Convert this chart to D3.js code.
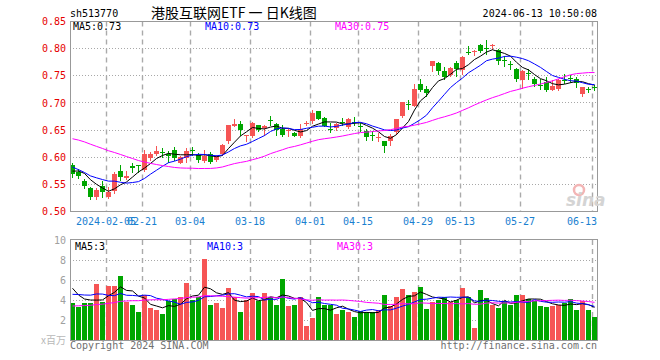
<!DOCTYPE html>
<html><head><meta charset="utf-8">
<script src="https://cdn.jsdelivr.net/npm/d3@7/dist/d3.min.js"></script>
<style>body{margin:0;background:#fff}svg{display:block}</style>
</head><body>
<svg id="c" width="660" height="360"></svg>
<script>
// ---- data ----
const dates = ["01-26","01-29","01-30","01-31","02-01","02-02","02-05","02-06","02-07","02-08",
"02-19","02-20","02-21","02-22","02-23","02-26","02-27","02-28","02-29","03-01",
"03-04","03-05","03-06","03-07","03-08","03-11","03-12","03-13","03-14","03-15",
"03-18","03-19","03-20","03-21","03-22","03-25","03-26","03-27","03-28","03-29",
"04-01","04-02","04-03","04-08","04-09","04-10","04-11","04-12","04-15","04-16",
"04-17","04-18","04-19","04-22","04-23","04-24","04-25","04-26","04-29","04-30",
"05-06","05-07","05-08","05-09","05-10","05-13","05-14","05-15","05-16","05-17",
"05-20","05-21","05-22","05-23","05-24","05-27","05-28","05-29","05-30","05-31",
"06-03","06-04","06-05","06-06","06-07","06-11","06-12","06-13"];
const opens = [0.586,0.573,0.557,0.543,0.527,0.547,0.527,0.538,0.575,0.562,
0.584,0.585,0.5765,0.598,0.606,0.610,0.6056,0.6136,0.590,0.598,
0.6125,0.6043,0.593,0.6056,0.5944,0.6056,0.630,0.6568,0.6617,0.6383,
0.6395,0.660,0.6537,0.668,0.661,0.652,0.6476,0.6444,0.6383,0.6623,
0.666,0.6858,0.6722,0.6525,0.6531,0.6654,0.6556,0.6654,0.6574,0.6475,
0.6407,0.6364,0.630,0.629,0.6463,0.6765,0.6975,0.695,0.734,0.725,
0.7673,0.7735,0.758,0.7519,0.7735,0.760,0.7944,0.7944,0.806,0.8018,
0.8055,0.798,0.7787,0.771,0.7623,0.7426,0.7543,0.7444,0.7325,0.7383,
0.7247,0.726,0.742,0.7463,0.7444,0.7167,0.7253,0.7296];
const highs = [0.589,0.578,0.559,0.546,0.544,0.557,0.546,0.572,0.586,0.575,
0.589,0.586,0.6136,0.609,0.620,0.617,0.6117,0.619,0.602,0.6167,
0.619,0.6086,0.6136,0.6105,0.6043,0.624,0.660,0.670,0.666,0.6407,
0.665,0.660,0.6586,0.6765,0.663,0.660,0.6519,0.6463,0.6617,0.666,
0.6877,0.6858,0.674,0.663,0.663,0.6722,0.6722,0.674,0.663,0.652,
0.6475,0.6445,0.630,0.6426,0.671,0.701,0.706,0.735,0.744,0.731,
0.7765,0.775,0.767,0.766,0.778,0.786,0.8043,0.797,0.808,0.8167,
0.808,0.800,0.7858,0.7765,0.7642,0.760,0.763,0.7475,0.7444,0.7475,
0.7414,0.7444,0.7525,0.7506,0.747,0.729,0.729,0.7339];
const lows = [0.564,0.561,0.544,0.523,0.523,0.527,0.524,0.535,0.558,0.560,
0.572,0.573,0.575,0.594,0.604,0.601,0.592,0.5957,0.589,0.592,
0.6043,0.592,0.591,0.589,0.5926,0.604,0.626,0.6568,0.6414,0.629,
0.638,0.6475,0.6414,0.660,0.640,0.6395,0.6383,0.6383,0.637,0.6599,
0.6636,0.6697,0.6568,0.6457,0.6506,0.6599,0.654,0.6599,0.6475,0.632,
0.631,0.629,0.6105,0.6228,0.6432,0.674,0.689,0.694,0.7216,0.7136,
0.759,0.754,0.744,0.750,0.750,0.754,0.790,0.789,0.794,0.7907,
0.800,0.772,0.7673,0.7623,0.741,0.727,0.7444,0.732,0.726,0.7216,
0.7247,0.7241,0.736,0.739,0.729,0.7136,0.7204,0.7241];
const closes = [0.570,0.566,0.5475,0.527,0.540,0.536,0.536,0.570,0.564,0.566,
0.581,0.583,0.606,0.606,0.612,0.609,0.6025,0.598,0.601,0.6117,
0.611,0.5957,0.603,0.592,0.6025,0.6228,0.660,0.661,0.6494,0.6407,
0.663,0.6506,0.6568,0.6667,0.6506,0.6414,0.6506,0.6383,0.6519,0.663,
0.6815,0.671,0.658,0.6513,0.6617,0.6642,0.671,0.6642,0.6562,0.637,
0.6395,0.637,0.621,0.6395,0.671,0.701,0.6963,0.7265,0.7247,0.7175,
0.7765,0.758,0.7475,0.7642,0.763,0.7846,0.7932,0.795,0.795,0.8006,
0.806,0.7765,0.7778,0.770,0.7438,0.759,0.7537,0.735,0.732,0.7247,
0.732,0.7426,0.7414,0.7457,0.7364,0.729,0.7247,0.729];
const volumes = [3.67,3.33,3.67,3.67,5.6,3.77,5.4,5.4,6.4,3.83,
3.5,2.8,4.5,3.2,3.0,2.6,3.9,4.1,4.3,5.7,
4.0,4.3,8.1,3.5,3.7,3.2,5.2,4.3,2.8,4.0,
4.7,3.9,4.7,4.3,3.5,6.1,3.4,3.5,4.3,1.4,
2.2,4.3,3.5,3.5,2.6,3.0,2.8,2.3,2.9,2.8,
2.8,3.0,4.5,3.4,4.3,5.1,4.5,4.8,5.3,3.1,
3.8,4.0,4.3,3.8,4.0,5.2,4.3,1.2,5.0,4.2,
3.5,3.2,3.9,3.5,4.5,4.5,4.1,3.9,3.4,3.3,
3.4,3.5,3.7,4.1,3.0,3.9,3.0,2.3];
// sessions before the visible window (estimated from where the MA lines start)
const prevCloses = [0.640,0.648,0.655,0.660,0.652,0.660,0.668,0.673,0.680,0.690,
0.695,0.688,0.680,0.676,0.668,0.655,0.648,0.630,0.622,0.615,
0.613,0.600,0.590,0.575,0.568,0.565,0.570,0.585,0.582];
const prevVolumes = [2.6,3.1,2.8,3.3,2.7,3.0,2.9,2.8,2.87,2.5,
2.9,2.4,2.7,2.6,2.8,2.6,2.8,3.1,2.9,2.93,
3.5,4.2,3.8,4.4,3.9,6.7,5.67,4.17,5.66];
const maPeriods = [5, 10, 30];
const maNames = ["MA5", "MA10", "MA30"];
const maPriceLabels = ["0.73", "0.73", "0.75"];
const maVolLabels = ["3", "3", "3"];
const priceTicks = [0.50,0.55,0.60,0.65,0.70,0.75,0.80,0.85];
const volTicks = [2,4,6,8,10];
const tickDates = ["02-05","02-21","03-04","03-18","04-01","04-15","04-29","05-13","05-27","06-13"];
const tickLabels = ["2024-02-05","02-21","03-04","03-18","04-01","04-15","04-29","05-13","05-27","06-13"];
const symbol = "sh513770";
const title = "港股互联网ETF 一 日K线图";
const timestamp = "2024-06-13 10:50:08";

// ---- drawing ----
const RED = "#f65555", GREEN = "#00a600";
const maColors = ["#000000", "#0000ff", "#ff00ff"];
const MONO = "'DejaVu Sans Mono', monospace";
const svg = d3.select("#c");
const n = dates.length;
const x = d3.scaleBand().domain(dates).range([70, 70 + 6 * n])
  .paddingInner(1/6).paddingOuter(1/12).align(0);
const bw = x.bandwidth();
const y = d3.scaleLinear().domain([0.50, 0.85]).range([211.5, 21.5]);
const yv = d3.scaleLinear().domain([0, 10]).range([340, 240]);
const crisp = v => Math.floor(v) + 0.5;

function movingAvg(prev, vals, p) {
  const all = prev.concat(vals);
  const off = prev.length;
  return vals.map((_, i) => d3.mean(all.slice(off + i - p + 1, off + i + 1)));
}

function panel(top, bottom, hTicks, yScale) {
  const g = svg.append("g");
  g.selectAll(".hg").data(hTicks).join("line")
    .attr("x1", 70).attr("x2", 597)
    .attr("y1", d => crisp(yScale(d))).attr("y2", d => crisp(yScale(d)))
    .attr("stroke", "#a8a8a8").attr("stroke-dasharray", "1,2");
  g.selectAll(".vg").data(tickDates).join("line")
    .attr("x1", d => x(d) + 0.5).attr("x2", d => x(d) + 0.5)
    .attr("y1", top).attr("y2", bottom)
    .attr("stroke", "#aaaaaa").attr("stroke-width", 1.4).attr("stroke-dasharray", "5,4");
  return g;
}

// main panel grid
panel(21.5, 211.5, [0.55,0.60,0.65,0.70,0.75,0.80], y);
// volume panel grid
panel(240, 340, [2,4,6,8], yv);

// candles
const cg = svg.append("g");
dates.forEach((d, i) => {
  const o = opens[i], c = closes[i];
  const col = c >= o ? RED : GREEN;
  const xc = x(d) + 2.5;
  cg.append("line").attr("x1", xc).attr("x2", xc)
    .attr("y1", Math.round(y(highs[i]))).attr("y2", Math.round(y(lows[i])) + 1)
    .attr("stroke", col).attr("stroke-width", 1);
  const t = Math.round(y(Math.max(o, c))), b = Math.round(y(Math.min(o, c)));
  cg.append("rect").attr("x", x(d)).attr("y", t)
    .attr("width", bw).attr("height", Math.max(1, b - t)).attr("fill", col);
});

// volume bars
svg.append("g").selectAll("rect").data(dates).join("rect")
  .attr("x", d => x(d)).attr("width", bw)
  .attr("y", (d, i) => Math.round(yv(volumes[i])))
  .attr("height", (d, i) => 340 - Math.round(yv(volumes[i])))
  .attr("fill", (d, i) => closes[i] >= opens[i] ? RED : GREEN);

// MA lines
const lineP = d3.line().x((v, i) => x(dates[i]) + 2.5).y(v => y(v));
const lineV = d3.line().x((v, i) => x(dates[i]) + 2.5).y(v => yv(v));
maPeriods.forEach((p, k) => {
  svg.append("path").attr("d", lineP(movingAvg(prevCloses, closes, p)))
    .attr("fill", "none").attr("stroke", maColors[k]).attr("stroke-width", 1);
  svg.append("path").attr("d", lineV(movingAvg(prevVolumes, volumes, p)))
    .attr("fill", "none").attr("stroke", maColors[k]).attr("stroke-width", 1);
});

// borders
[[21.5, 211.5], [239.5, 340.5]].forEach(([t, b]) => {
  svg.append("rect").attr("x", 70.5).attr("y", t).attr("width", 527).attr("height", b - t)
    .attr("fill", "none").attr("stroke", "#999").attr("stroke-width", 1);
});

// price axis
const ay = svg.append("g").attr("transform", "translate(69,0)")
  .call(d3.axisLeft(y).tickValues(priceTicks).tickSize(0).tickFormat(d3.format(".2f")));
ay.select(".domain").remove();
ay.selectAll("text").attr("fill", "#e60000").style("font", "10px " + MONO);

// volume axis
const av = svg.append("g").attr("transform", "translate(69,0)")
  .call(d3.axisLeft(yv).tickValues(volTicks).tickSize(0).tickFormat(d3.format("d")));
av.select(".domain").remove();
av.selectAll("text").attr("fill", "#a0a0a0").style("font", "10px " + MONO);

// date axis
const ax = svg.append("g").attr("transform", "translate(-2.5,215)")
  .call(d3.axisBottom(x).tickValues(tickDates).tickSize(0).tickFormat((d, i) => tickLabels[i]));
ax.select(".domain").remove();
ax.selectAll("text").attr("fill", "#1a80d0").style("font", "10px " + MONO);
ax.selectAll(".tick").filter((d, i) => i === tickDates.length - 1).select("text")
  .attr("text-anchor", "end").attr("dx", "0.5em");

// header
const txt = (s, xx, yy, col, font, anchor) => svg.append("text").text(s)
  .attr("x", xx).attr("y", yy).attr("fill", col).style("font", font)
  .attr("text-anchor", anchor || "start");
txt(symbol, 70, 17, "#000", "10px " + MONO);
txt(title, 151, 18, "#000", "14px 'Noto Sans CJK SC'");
txt(timestamp, 597, 17, "#000", "10px " + MONO, "end");

// MA labels
const maX = [73, 205, 335];
maNames.forEach((m, k) => {
  txt(m + ":" + maPriceLabels[k], maX[k], 30, maColors[k], "10px " + MONO);
  txt(m + ":" + maVolLabels[k], maX[k] + 2, 250, maColors[k], "10px " + MONO);
});

// footer
txt("x百万", 66, 344, "#b8b8b8", "10px 'Noto Sans CJK SC'", "end");
txt("Copyright 2024 SINA.COM", 70, 349, "#707070", "10px " + MONO);
txt("http://finance.sina.com.cn", 597, 349, "#707070", "10px " + MONO, "end");

// watermark
svg.append("circle").attr("cx", 579).attr("cy", 190).attr("r", 5)
  .attr("fill", "none").attr("stroke", "#f3b5b5").attr("stroke-width", 2.5);
txt("sina", 566, 206, "#d4d4d4", "italic bold 17px 'DejaVu Sans'");
</script>
</body></html>
